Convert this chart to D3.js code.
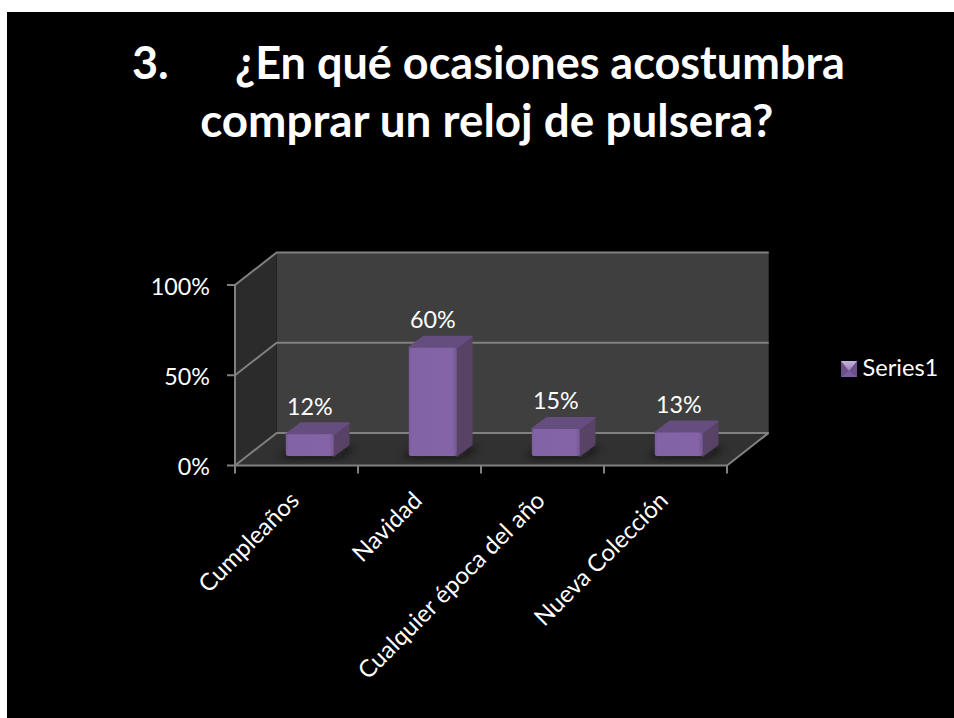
<!DOCTYPE html>
<html lang="es">
<head>
<meta charset="utf-8">
<script src="https://cdn.jsdelivr.net/npm/d3@7"></script>
<style>
html,body{margin:0;padding:0;background:#fff;}
svg{display:block;}
text{font-family:Lato,"Open Sans",sans-serif;}
</style>
</head>
<body>
<svg id="chart" width="954" height="718"></svg>
<script>
const categories = ["Cumpleaños", "Navidad", "Cualquier época del año", "Nueva Colección"];
const values = [12, 60, 15, 13];
const axisTicks = [0, 50, 100];
const seriesName = "Series1";
const titleLines = ["¿En qué ocasiones acostumbra", "comprar un reloj de pulsera?"];
const titleNumber = "3.";

const svg = d3.select("#chart");
svg.append("rect").attr("x", 7).attr("y", 12).attr("width", 947).attr("height", 706).attr("fill", "#000");

// Frame of the box: front plane scales plus the depth vector of the floor
const frontLeft = 235, frontRight = 727;
const x = d3.scaleBand().domain(categories).range([frontLeft, frontRight]);
const y = d3.scaleLinear().domain([0, 100]).range([465.5, 285]);
const depth = {dx: 41.7, dy: -32.6};
const barOffset = {dx: 13.3, dy: -9.5};
const barDepth = {dx: 15, dy: -11.3};
const barWidth = 48;
const gridColor = "#808080";

const defs = svg.append("defs");
defs.append("filter").attr("id", "soft").attr("x", "-30%").attr("y", "-60%").attr("width", "160%").attr("height", "220%")
  .append("feGaussianBlur").attr("stdDeviation", 4);
const frontGrad = defs.append("linearGradient").attr("id", "barFront");
[[0, "#7a5c9c"], [0.06, "#8263a5"], [0.9, "#8464a6"], [1, "#745793"]].forEach(([o, c]) =>
  frontGrad.append("stop").attr("offset", o).attr("stop-color", c));
const legendGrad = defs.append("linearGradient").attr("id", "legendFace").attr("x1", 0).attr("x2", 0).attr("y1", 0).attr("y2", 1);
legendGrad.append("stop").attr("offset", 0).attr("stop-color", "#c4b3da");
legendGrad.append("stop").attr("offset", 1).attr("stop-color", "#9a7fbb");

const pts = a => a.map(p => p.join(",")).join(" ");
const back = ([px, py]) => [px + depth.dx, py + depth.dy];

// Walls and floor
const yTop = y(100), yBase = y(0);
svg.append("polygon").attr("fill", "#3f3f3f")
  .attr("points", pts([back([frontLeft, yTop]), back([frontRight, yTop]), back([frontRight, yBase]), back([frontLeft, yBase])]));
svg.append("polygon").attr("fill", "#2b2b2b")
  .attr("points", pts([[frontLeft, yTop], back([frontLeft, yTop]), back([frontLeft, yBase]), [frontLeft, yBase]]));
svg.append("polygon").attr("fill", "#313131")
  .attr("points", pts([[frontLeft, yBase], [frontRight, yBase], back([frontRight, yBase]), back([frontLeft, yBase])]));

// Gridlines across the left wall and the back wall
const lineW = 2;
axisTicks.forEach(t => {
  const p = [frontLeft, y(t)], b = back(p);
  svg.append("polyline").attr("fill", "none").attr("stroke", gridColor).attr("stroke-width", lineW)
    .attr("points", pts([p, b, [frontRight + depth.dx, b[1]]]));
});
svg.append("line").attr("x1", frontLeft).attr("x2", frontLeft).attr("y1", yTop).attr("y2", yBase)
  .attr("stroke", gridColor).attr("stroke-width", lineW);
svg.append("polyline").attr("fill", "none").attr("stroke", gridColor).attr("stroke-width", lineW)
  .attr("points", pts([[frontLeft, yBase], [frontRight, yBase], back([frontRight, yBase])]));

// Axis ticks and their labels
const yAxis = svg.append("g");
axisTicks.forEach(t => {
  yAxis.append("line").attr("x1", frontLeft - 8).attr("x2", frontLeft).attr("y1", y(t)).attr("y2", y(t))
    .attr("stroke", gridColor).attr("stroke-width", lineW);
  yAxis.append("text").attr("x", 210).attr("y", y(t) + 9.5).attr("text-anchor", "end")
    .attr("fill", "#fff").attr("font-size", 23.3).text(t + "%");
});
const tickXs = categories.map(c => x(c)).concat(frontRight);
tickXs.forEach(tx => {
  svg.append("line").attr("x1", tx).attr("x2", tx).attr("y1", yBase).attr("y2", yBase + 8)
    .attr("stroke", gridColor).attr("stroke-width", lineW);
});

// Bars: soft floor shadow, side, top, front
const barY = v => y(v) + barOffset.dy;
const barX = c => x(c) + x.bandwidth() / 2 + barOffset.dx - barWidth / 2;
categories.forEach((c, i) => {
  const v = values[i];
  const l = barX(c), r = l + barWidth, t = barY(v), b = barY(0);
  const g = svg.append("g");
  g.append("polygon").attr("fill", "#111").attr("opacity", 0.75).attr("filter", "url(#soft)")
    .attr("points", pts([[l - 8, b + 1], [r + 4, b + 1], [r + barDepth.dx + 8, b + barDepth.dy + 3], [l + 10, b + barDepth.dy + 3]]));
  g.append("polygon").attr("fill", "#584265").attr("stroke", "#584265").attr("stroke-linejoin", "round").attr("stroke-width", 1.5)
    .attr("points", pts([[r, t], [r + barDepth.dx, t + barDepth.dy], [r + barDepth.dx, b + barDepth.dy], [r, b]]));
  g.append("polygon").attr("fill", "#664d80").attr("stroke", "#664d80").attr("stroke-linejoin", "round").attr("stroke-width", 1.5)
    .attr("points", pts([[l, t], [l + barDepth.dx, t + barDepth.dy], [r + barDepth.dx, t + barDepth.dy], [r, t]]));
  g.append("rect").attr("x", l).attr("y", t).attr("width", barWidth).attr("height", b - t)
    .attr("rx", 2).attr("fill", "url(#barFront)");
  svg.append("text").attr("x", l + barWidth / 2).attr("y", t - 19.5).attr("text-anchor", "middle")
    .attr("fill", "#fff").attr("font-size", 23.3).text(v + "%");
});

// Rotated category labels
categories.forEach(c => {
  const cx = x(c) + x.bandwidth() / 2 + 4;
  svg.append("text").attr("transform", `translate(${cx},${yBase + 36.5}) rotate(-45)`)
    .attr("text-anchor", "end").attr("fill", "#fff").attr("font-size", 24).text(c);
});

// Legend
const lg = svg.append("g").attr("transform", "translate(841,361)");
const s = 16;
lg.append("rect").attr("width", s).attr("height", s).attr("fill", "#6b5089");
lg.append("polygon").attr("points", pts([[0, 0], [s, 0], [s / 2, s * 0.62]])).attr("fill", "url(#legendFace)");
lg.append("polygon").attr("points", pts([[0, s], [s, s], [s / 2, s * 0.62]])).attr("fill", "#7d5fa0");
svg.append("text").attr("x", 862.5).attr("y", 376).attr("fill", "#fff").attr("font-size", 23.6).text(seriesName);

// Title
svg.append("text").attr("x", 132).attr("y", 78.5).attr("fill", "#fff").attr("font-size", 45).attr("font-weight", 700).text(titleNumber);
svg.append("text").attr("x", 235).attr("y", 78.5).attr("fill", "#fff").attr("font-size", 45).attr("font-weight", 700).text(titleLines[0]);
svg.append("text").attr("x", 486.7).attr("y", 136.7).attr("text-anchor", "middle").attr("fill", "#fff").attr("font-size", 45.8).attr("font-weight", 700).text(titleLines[1]);
</script>
</body>
</html>
